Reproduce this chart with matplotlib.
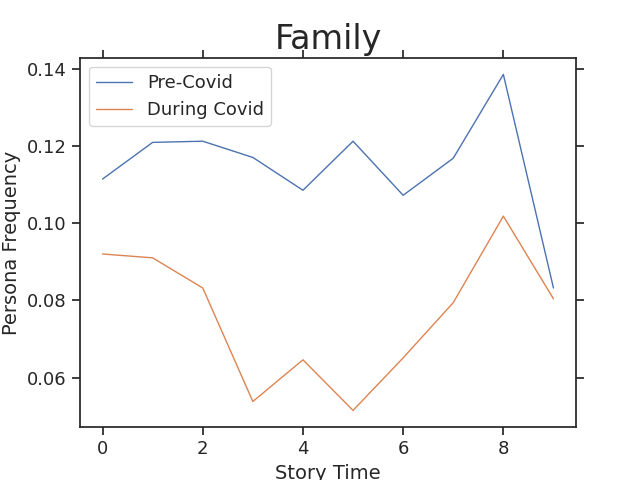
import matplotlib
matplotlib.use("Agg")
import matplotlib.pyplot as plt
import seaborn as sns

story_time = [0, 1, 2, 3, 4, 5, 6, 7, 8, 9]
pre_covid = [0.1114, 0.1209, 0.1212, 0.1170, 0.1085, 0.1212, 0.1072, 0.1168, 0.1385, 0.0832]
during_covid = [0.0920, 0.0910, 0.0832, 0.0538, 0.0646, 0.0515, 0.0651, 0.0794, 0.1018, 0.0804]

sns.set_theme(style="ticks")
plt.rcParams['font.family'] = ['DejaVu Sans']

fig, ax = plt.subplots(figsize=(6.4, 4.8), dpi=100)
ax.plot(story_time, pre_covid, color="#4c72b0", linewidth=1, label="Pre-Covid")
ax.plot(story_time, during_covid, color="#dd8452", linewidth=1, label="During Covid")

ax.tick_params(top=True, right=True, labelsize=13)
ax.set_xlabel("Story Time", fontsize=14)
ax.set_ylabel("Persona Frequency", fontsize=14)
ax.set_title("Family", fontsize=24)
ax.legend(loc="upper left", fontsize=13)

fig.savefig("out.png", dpi=100)
